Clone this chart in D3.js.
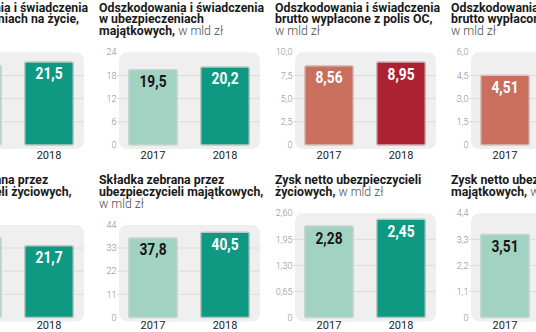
<!DOCTYPE html>
<html><head><meta charset="utf-8">
<script src="https://cdn.jsdelivr.net/npm/d3@7"></script>
<style>html,body{margin:0;padding:0;background:#fff;overflow:hidden}svg{display:block}</style>
</head><body>
<svg id="c" width="536" height="332"></svg>
<script>
// ---- data ----
const years = ["2017", "2018"];

// row 1
const titles1 = [
  [["Odszkodowania i świadczenia"], ["w ubezpieczeniach na życie,"], ["", "w mld zł"]],
  [["Odszkodowania i świadczenia"], ["w ubezpieczeniach"], ["majątkowych,", " w mld zł"]],
  [["Odszkodowania i świadczenia"], ["brutto wypłacone z polis OC,"], ["", "w mld zł"]],
  [["Odszkodowania i świadczenia"], ["brutto wypłacone z polis AC,"], ["", "w mld zł"]]
];
const values1 = [[20.6, 21.5], [19.5, 20.2], [8.56, 8.95], [4.51, 4.9]];
const labels1 = [["20,6", "21,5"], ["19,5", "20,2"], ["8,56", "8,95"], ["4,51", "4,90"]];
const ticks1 = [[0, 6, 12, 18, 24], [0, 6, 12, 18, 24], [0, 2.5, 5, 7.5, 10], [0, 1.5, 3, 4.5, 6]];
const tickLabels1 = [["0", "6", "12", "18", "24"], ["0", "6", "12", "18", "24"],
  ["0", "2,5", "5,0", "7,5", "10,0"], ["0", "1,5", "3,0", "4,5", "6,0"]];
const schemes1 = ["green", "green", "red", "red"];

// row 2
const titles2 = [
  [["Składka zebrana przez"], ["ubezpieczycieli życiowych,"], ["", "w mld zł"]],
  [["Składka zebrana przez"], ["ubezpieczycieli majątkowych,"], ["", "w mld zł"]],
  [["Zysk netto ubezpieczycieli"], ["życiowych,", " w mld zł"]],
  [["Zysk netto ubezpieczycieli"], ["majątkowych,", " w mld zł"]]
];
const values2 = [[24.2, 21.7], [37.8, 40.5], [2.28, 2.45], [3.51, 3.9]];
const labels2 = [["24,2", "21,7"], ["37,8", "40,5"], ["2,28", "2,45"], ["3,51", "3,90"]];
const ticks2 = [[0, 7, 14, 21, 28], [0, 11, 22, 33, 44], [0, 0.65, 1.3, 1.95, 2.6], [0, 1.1, 2.2, 3.3, 4.4]];
const tickLabels2 = [["0", "7", "14", "21", "28"], ["0", "11", "22", "33", "44"],
  ["0", "0,65", "1,30", "1,95", "2,60"], ["0", "1,1", "2,2", "3,3", "4,4"]];
const schemes2 = ["green", "green", "green", "green"];

// ---- style ----
const colors = {
  green: { fill: ["#a2d2c1", "#0f9982"], text: ["#161616", "#ffffff"], stroke: ["#c9d6d0", "#b9c9c3"] },
  red: { fill: ["#c86f5e", "#ad2232"], text: ["#ffffff", "#ffffff"], stroke: ["#d8c3bd", "#cdb5b5"] }
};

const svg = d3.select("#c");
const rows = [
  { titles: titles1, values: values1, labels: labels1, ticks: ticks1, tickLabels: tickLabels1, schemes: schemes1,
    firstBase: 11.8, bottom: 145, yearBase: 158.5 },
  { titles: titles2, values: values2, labels: labels2, ticks: ticks2, tickLabels: tickLabels2, schemes: schemes2,
    firstBase: 184.4, bottom: 317.5, yearBase: 328.5 }
];
const lineH = 11.6;
const colX = c => 99 + (c - 1) * 176;

rows.forEach(row => {
  row.titles.forEach((lines, c) => {
    const px = colX(c);
    const g = svg.append("g");
    // title
    lines.forEach((ln, i) => {
      const t = g.append("text")
        .attr("x", px).attr("y", row.firstBase + i * lineH)
        .attr("font-family", "Roboto, sans-serif").attr("font-size", 12.3);
      t.append("tspan").attr("font-weight", 700).attr("fill", "#1a1a1a").text(ln[0]);
      if (ln[1]) t.append("tspan").attr("font-weight", 300).attr("fill", "#4a4a4a").text(ln[1]);
    });
    const top = row.firstBase + (lines.length - 1) * lineH + 17.3;
    const tks = row.ticks[c];
    const y = d3.scaleLinear().domain([0, tks[tks.length - 1]]).range([row.bottom, top]);
    const x = d3.scaleBand().domain(years).range([px + 20, px + 160]).paddingInner(0.326).paddingOuter(0.135);

    // background panel
    g.append("rect")
      .attr("x", px + 20).attr("y", y.range()[1])
      .attr("width", 141).attr("height", row.bottom - y.range()[1] + 4)
      .attr("rx", 8).attr("fill", "#efefef");
    // gridlines
    g.selectAll(".grid").data(tks.slice(1, -1)).enter().append("line")
      .attr("x1", px + 18).attr("x2", px + 161)
      .attr("y1", d => y(d)).attr("y2", d => y(d))
      .attr("stroke", "#dcdcdc").attr("stroke-width", 1);
    // tick labels
    g.selectAll(".tl").data(tks).enter().append("text")
      .attr("x", px + 17.5).attr("y", d => y(d))
      .attr("dy", "0.35em").attr("text-anchor", "end")
      .attr("font-family", "Roboto, sans-serif").attr("font-size", 9).attr("font-weight", 300)
      .attr("fill", "#8a8a8a")
      .text((d, i) => row.tickLabels[c][i]);

    const sc = colors[row.schemes[c]];
    // bars
    g.selectAll(".bar").data(years).enter().append("rect")
      .attr("x", d => x(d)).attr("width", x.bandwidth())
      .attr("y", (d, i) => y(row.values[c][i]))
      .attr("height", (d, i) => row.bottom - y(row.values[c][i]))
      .attr("rx", 1.5)
      .attr("fill", (d, i) => sc.fill[i])
      .attr("stroke", (d, i) => sc.stroke[i]).attr("stroke-width", 1.5);
    // value labels
    g.selectAll(".vl").data(years).enter().append("text")
      .attr("transform", (d, i) => `translate(${x(d) + x.bandwidth() / 2},${y(row.values[c][i]) + 17.5}) scale(0.86,1)`)
      .attr("text-anchor", "middle")
      .attr("font-family", "Roboto, sans-serif").attr("font-size", 16).attr("font-weight", 700)
      .attr("fill", (d, i) => sc.text[i])
      .text((d, i) => row.labels[c][i]);
    // year labels
    g.selectAll(".yl").data(years).enter().append("text")
      .attr("x", d => x(d) + x.bandwidth() / 2).attr("y", row.yearBase)
      .attr("text-anchor", "middle")
      .attr("font-family", "Roboto, sans-serif").attr("font-size", 11).attr("font-weight", 400)
      .attr("fill", "#222")
      .text(d => d);
  });
});
</script>
</body></html>
